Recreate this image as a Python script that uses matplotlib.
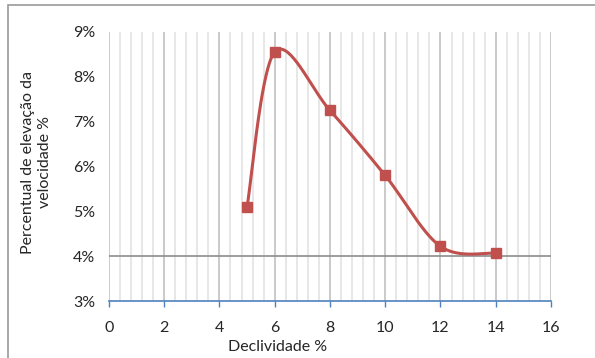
import numpy as np
import matplotlib
matplotlib.use("Agg")
import matplotlib.pyplot as plt
from matplotlib.patches import Rectangle

# dados
declividade = [5, 6, 8, 10, 12, 14]
elevacao = [5.1, 8.55, 7.25, 5.8, 4.22, 4.07]  # %
yticks = [3, 4, 5, 6, 7, 8, 9]
xticks = [0, 2, 4, 6, 8, 10, 12, 14, 16]
ylabel_linhas = ["Percentual de elevação da", "velocidade %"]

plt.rcParams['font.family'] = ['Lato', 'DejaVu Sans']
fs = 11.5


def smooth(xs, ys, n=40):
    # curva suavizada tipo Excel (Bezier com tangentes Catmull-Rom)
    p = np.column_stack([xs, ys]).astype(float)
    p = np.vstack([p[0], p, p[-1]])
    out = []
    t = np.linspace(0, 1, n)[:, None]
    for i in range(1, len(p) - 2):
        p0, p3 = p[i], p[i + 1]
        c1 = p0 + (p[i + 1] - p[i - 1]) / 6
        c2 = p3 - (p[i + 2] - p[i]) / 6
        seg = ((1 - t) ** 3) * p0 + 3 * ((1 - t) ** 2) * t * c1 + 3 * (1 - t) * t ** 2 * c2 + t ** 3 * p3
        out.append(seg)
    out = np.vstack(out)
    return out[:, 0], out[:, 1]


fig = plt.figure(figsize=(5.95, 3.58), dpi=100)
ax = fig.add_axes([0.183, 0.159, 0.743, 0.752])

# moldura externa
fig.patches.append(Rectangle((8 / 595, -0.1), 1.2, 1 - 5 / 358 + 0.1, transform=fig.transFigure,
                             fill=False, edgecolor='#9a9a9a', linewidth=1.2))

ax.set_xlim(0, 16)
ax.set_ylim(3, 9)
ax.set_xticks(xticks)
ax.set_xticklabels([str(v) for v in xticks])
ax.set_xticks(np.arange(0, 16.01, 0.4), minor=True)
ax.set_yticks(yticks)
ax.set_yticklabels([f"{v}%" for v in yticks])

ax.grid(True, which='minor', axis='x', color='#e3e3e3', linewidth=1.2)
ax.grid(True, which='major', axis='x', color='#c6c6c6', linewidth=1.3)
ax.axhline(4, color='#8c8c8c', linewidth=1.2, zorder=1)
ax.set_axisbelow(True)

for s in ['top', 'right', 'left']:
    ax.spines[s].set_visible(False)
ax.spines['bottom'].set_color('#4f81bd')
ax.spines['bottom'].set_linewidth(1.2)
ax.tick_params(axis='x', which='major', color='#4f81bd', length=4, width=1, direction='out',
               labelsize=fs, labelcolor='#262626', pad=10)
ax.tick_params(axis='x', which='minor', length=0)
ax.tick_params(axis='y', length=0, labelsize=fs, labelcolor='#262626', pad=10)

sx, sy = smooth(declividade, elevacao)
ax.plot(sx, sy, color='#c0504d', linewidth=2.2, zorder=3)
ax.plot(declividade, elevacao, linestyle='none', marker='s', markersize=7,
        color='#c0504d', zorder=4)

ax.set_xlabel("Declividade %", fontsize=fs, color='#262626')
ax.xaxis.set_label_coords(6.1 / 16, -0.172)
ax.xaxis.label.set_va('center')
for k, linha in enumerate(ylabel_linhas):
    fig.text((28 + 17 * k) / 595, 1 - 162 / 358, linha, rotation=90,
             ha='center', va='center', fontsize=fs, color='#262626')

fig.savefig("out.png", dpi=100)
